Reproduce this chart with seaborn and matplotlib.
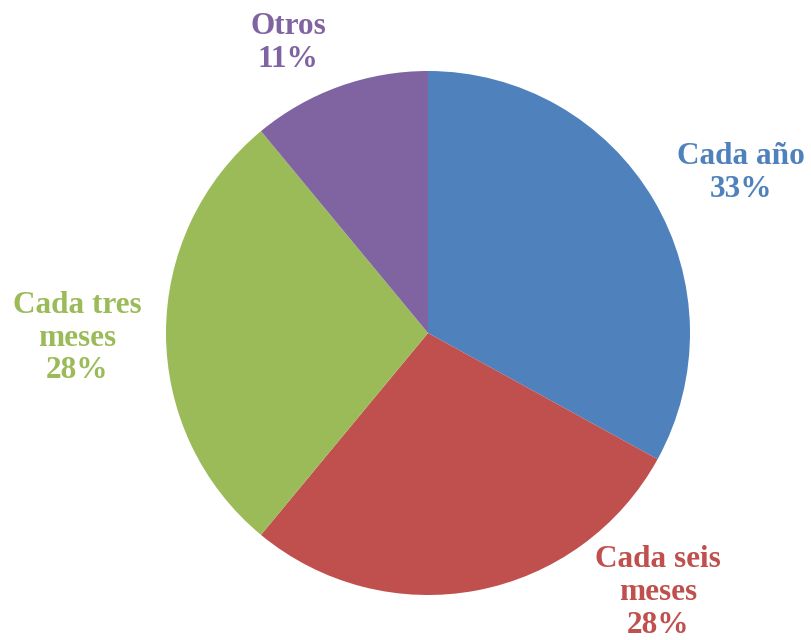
import matplotlib
matplotlib.use("Agg")
import matplotlib.pyplot as plt
import seaborn as sns

# Frequency categories and their shares (%)
categories = ["Cada año", "Cada seis\nmeses", "Cada tres\nmeses", "Otros"]
shares = [33, 28, 28, 11]
colors = ["#4F81BD", "#C0504D", "#9BBB59", "#8064A2"]

sns.set_theme(style="white")
plt.rcParams["font.family"] = ["Liberation Serif", "DejaVu Serif"]

fig = plt.figure(figsize=(8.11, 6.4), dpi=100)
W, H = 811, 640
cx, cy, r = 428, 333, 262
ax = fig.add_axes([(cx - r) / W, (H - cy - r) / H, 2 * r / W, 2 * r / H])

wedges, _ = ax.pie(shares, colors=colors, startangle=90, counterclock=False,
                   radius=1, wedgeprops=dict(linewidth=0))
ax.set_xlim(-1, 1)
ax.set_ylim(-1, 1)
ax.axis("off")

# Label anchor points around the pie (axis units)
label_pos = [(1.195, 0.612), (0.878, -0.99), (-1.340, -0.02), (-0.534, 1.108)]
for cat, val, col, (lx, ly) in zip(categories, shares, colors, label_pos):
    ax.text(lx, ly, f"{cat}\n{val}%", color=col, fontsize=22.5, fontweight="bold",
            ha="center", va="center", linespacing=1.17, clip_on=False)

fig.savefig("out.png", dpi=100, facecolor="white")
